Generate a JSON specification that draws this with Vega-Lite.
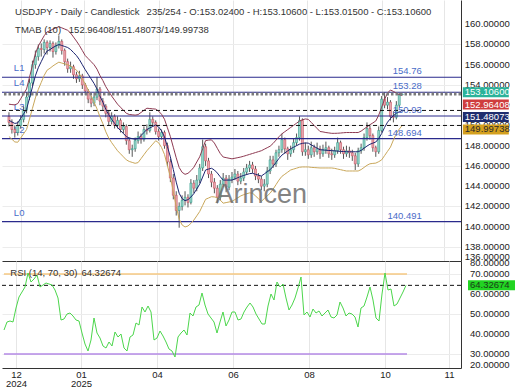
{
"$schema":"https://vega.github.io/schema/vega-lite/v6.json",
"background":"#ffffff",
"padding":0,
"spacing":0,
"bounds":"flush",
"config":{"view":{"stroke":null},"font":"Liberation Sans","axis":{"labelFont":"Liberation Sans","labelFontSize":9.5,"labelColor":"#222222","ticks":false,"title":null,"labelOverlap":false}},
"datasets":{
"bars":[
{"i":0,"o":150.9,"h":151.3,"l":149.9,"c":150.3,"u":152.1,"m":150.5,"d":148.9,"r":42},
{"i":1,"o":150.3,"h":150.6,"l":149.2,"c":149.6,"u":152.06,"m":150.35,"d":148.64,"r":46},
{"i":2,"o":149.6,"h":150.0,"l":148.8,"c":149.3,"u":152.03,"m":150.2,"d":148.37,"r":46.5},
{"i":3,"o":149.3,"h":150.4,"l":149.0,"c":150.0,"u":152.16,"m":150.25,"d":148.34,"r":46},
{"i":4,"o":150.0,"h":151.0,"l":149.7,"c":150.6,"u":152.64,"m":150.7,"d":148.76,"r":53},
{"i":5,"o":150.6,"h":151.9,"l":150.3,"c":151.5,"u":153.12,"m":151.15,"d":149.18,"r":58.5},
{"i":6,"o":151.5,"h":153.3,"l":151.2,"c":152.8,"u":153.6,"m":151.6,"d":149.6,"r":61},
{"i":7,"o":152.8,"h":154.6,"l":152.5,"c":154.2,"u":154.76,"m":152.7,"d":150.64,"r":63.5},
{"i":8,"o":154.2,"h":156.4,"l":153.9,"c":156.0,"u":155.92,"m":153.8,"d":151.68,"r":70.5},
{"i":9,"o":156.0,"h":157.4,"l":155.6,"c":156.8,"u":157.08,"m":154.9,"d":152.72,"r":66},
{"i":10,"o":156.8,"h":158.0,"l":156.4,"c":157.6,"u":157.84,"m":155.7,"d":153.56,"r":67.5},
{"i":11,"o":157.6,"h":158.1,"l":156.8,"c":157.5,"u":158.35,"m":156.3,"d":154.25,"r":69.5},
{"i":12,"o":157.5,"h":158.5,"l":157.1,"c":158.2,"u":158.86,"m":156.9,"d":154.94,"r":63.5},
{"i":13,"o":158.2,"h":158.4,"l":157.0,"c":157.7,"u":159.24,"m":157.35,"d":155.46,"r":64.5},
{"i":14,"o":157.7,"h":158.4,"l":157.3,"c":158.1,"u":159.35,"m":157.5,"d":155.65,"r":65.5},
{"i":15,"o":158.1,"h":158.3,"l":156.7,"c":157.3,"u":159.52,"m":157.7,"d":155.88,"r":65},
{"i":16,"o":157.3,"h":158.2,"l":157.0,"c":157.9,"u":159.63,"m":157.85,"d":156.07,"r":64.5},
{"i":17,"o":157.9,"h":158.9,"l":157.6,"c":158.3,"u":159.75,"m":158.0,"d":156.25,"r":62},
{"i":18,"o":158.3,"h":158.5,"l":157.0,"c":157.4,"u":159.64,"m":157.9,"d":156.16,"r":58},
{"i":19,"o":157.4,"h":157.6,"l":155.9,"c":156.3,"u":159.52,"m":157.8,"d":156.08,"r":47},
{"i":20,"o":156.3,"h":156.6,"l":155.2,"c":155.6,"u":159.4,"m":157.7,"d":156.0,"r":47.5},
{"i":21,"o":155.6,"h":156.3,"l":155.2,"c":155.8,"u":159.13,"m":157.5,"d":155.87,"r":50},
{"i":22,"o":155.8,"h":156.0,"l":154.6,"c":155.0,"u":158.73,"m":157.2,"d":155.67,"r":50.5},
{"i":23,"o":155.0,"h":155.3,"l":154.2,"c":154.6,"u":158.33,"m":156.9,"d":155.47,"r":49},
{"i":24,"o":154.6,"h":155.4,"l":154.3,"c":154.9,"u":157.9,"m":156.5,"d":155.1,"r":47},
{"i":25,"o":154.9,"h":155.1,"l":153.6,"c":154.0,"u":157.4,"m":156.0,"d":154.6,"r":46.5},
{"i":26,"o":154.0,"h":154.2,"l":153.0,"c":153.4,"u":156.9,"m":155.5,"d":154.1,"r":40.5},
{"i":27,"o":153.4,"h":153.6,"l":152.2,"c":152.6,"u":156.6,"m":155.05,"d":153.5,"r":35},
{"i":28,"o":152.6,"h":152.9,"l":151.8,"c":152.2,"u":156.3,"m":154.6,"d":152.9,"r":31.5},
{"i":29,"o":152.2,"h":153.2,"l":151.9,"c":152.8,"u":156.0,"m":154.15,"d":152.3,"r":37},
{"i":30,"o":152.8,"h":154.8,"l":152.5,"c":153.6,"u":155.56,"m":153.6,"d":151.64,"r":48},
{"i":31,"o":153.6,"h":153.8,"l":152.0,"c":152.4,"u":154.94,"m":152.9,"d":150.86,"r":40.5},
{"i":32,"o":152.4,"h":152.7,"l":151.5,"c":151.9,"u":154.43,"m":152.3,"d":150.17,"r":38},
{"i":33,"o":151.9,"h":152.1,"l":150.8,"c":151.2,"u":153.83,"m":151.6,"d":149.37,"r":34},
{"i":34,"o":151.2,"h":151.5,"l":150.0,"c":150.4,"u":153.36,"m":151.06,"d":148.76,"r":33},
{"i":35,"o":150.4,"h":151.3,"l":150.1,"c":150.9,"u":152.9,"m":150.6,"d":148.3,"r":36},
{"i":36,"o":150.9,"h":151.1,"l":149.7,"c":150.0,"u":152.5,"m":150.2,"d":147.9,"r":34},
{"i":37,"o":150.0,"h":150.9,"l":149.7,"c":150.5,"u":152.1,"m":149.8,"d":147.5,"r":41},
{"i":38,"o":150.5,"h":150.7,"l":149.3,"c":149.6,"u":151.8,"m":149.5,"d":147.2,"r":38.5},
{"i":39,"o":149.6,"h":150.3,"l":149.2,"c":149.9,"u":151.5,"m":149.2,"d":146.9,"r":40},
{"i":40,"o":149.9,"h":150.1,"l":148.1,"c":148.5,"u":151.2,"m":148.9,"d":146.6,"r":33},
{"i":41,"o":148.5,"h":148.8,"l":147.2,"c":147.6,"u":151.08,"m":148.76,"d":146.44,"r":31.5},
{"i":42,"o":147.6,"h":148.1,"l":146.9,"c":147.7,"u":151.05,"m":148.7,"d":146.35,"r":38.5},
{"i":43,"o":147.7,"h":148.8,"l":147.4,"c":148.5,"u":151.02,"m":148.64,"d":146.26,"r":39.5},
{"i":44,"o":148.5,"h":149.4,"l":148.2,"c":148.9,"u":151.07,"m":148.7,"d":146.33,"r":45.5},
{"i":45,"o":148.9,"h":149.2,"l":148.2,"c":148.6,"u":151.28,"m":149.0,"d":146.72,"r":44.5},
{"i":46,"o":148.6,"h":149.9,"l":148.4,"c":149.6,"u":151.49,"m":149.3,"d":147.11,"r":53.5},
{"i":47,"o":149.6,"h":150.1,"l":149.1,"c":149.5,"u":151.7,"m":149.6,"d":147.5,"r":51},
{"i":48,"o":149.5,"h":151.3,"l":149.3,"c":150.6,"u":151.67,"m":149.75,"d":147.83,"r":54},
{"i":49,"o":150.6,"h":150.9,"l":149.9,"c":150.3,"u":151.64,"m":149.9,"d":148.16,"r":51},
{"i":50,"o":150.3,"h":150.5,"l":149.1,"c":149.4,"u":151.61,"m":150.05,"d":148.49,"r":37},
{"i":51,"o":149.4,"h":149.7,"l":148.5,"c":148.9,"u":151.41,"m":149.85,"d":148.29,"r":38},
{"i":52,"o":148.9,"h":149.6,"l":148.6,"c":149.3,"u":151.1,"m":149.46,"d":147.82,"r":41.5},
{"i":53,"o":149.3,"h":149.5,"l":147.7,"c":148.0,"u":150.61,"m":148.87,"d":147.13,"r":39},
{"i":54,"o":148.0,"h":148.3,"l":146.0,"c":146.4,"u":149.77,"m":147.9,"d":146.03,"r":36},
{"i":55,"o":146.4,"h":146.7,"l":144.4,"c":144.8,"u":148.9,"m":146.9,"d":144.9,"r":32.5},
{"i":56,"o":144.8,"h":145.2,"l":142.7,"c":143.1,"u":147.85,"m":145.65,"d":143.45,"r":31.5},
{"i":57,"o":143.1,"h":143.5,"l":141.1,"c":141.6,"u":146.8,"m":144.4,"d":142.0,"r":28.5},
{"i":58,"o":141.6,"h":142.4,"l":139.9,"c":142.0,"u":145.85,"m":143.3,"d":140.75,"r":38.5},
{"i":59,"o":142.0,"h":143.1,"l":141.6,"c":142.6,"u":145.37,"m":142.77,"d":140.17,"r":40.5},
{"i":60,"o":142.6,"h":143.5,"l":142.1,"c":142.9,"u":145.17,"m":142.57,"d":139.97,"r":42},
{"i":61,"o":142.9,"h":143.2,"l":141.9,"c":142.4,"u":145.27,"m":142.67,"d":140.07,"r":39.5},
{"i":62,"o":142.4,"h":144.7,"l":142.2,"c":144.3,"u":145.53,"m":142.93,"d":140.33,"r":50.5},
{"i":63,"o":144.3,"h":144.6,"l":143.3,"c":143.8,"u":145.87,"m":143.26,"d":140.65,"r":49},
{"i":64,"o":143.8,"h":145.1,"l":143.5,"c":144.6,"u":146.39,"m":143.73,"d":141.07,"r":53.5},
{"i":65,"o":144.6,"h":146.2,"l":144.3,"c":145.8,"u":146.9,"m":144.2,"d":141.5,"r":54.5},
{"i":66,"o":145.8,"h":148.6,"l":145.5,"c":147.9,"u":147.7,"m":144.9,"d":142.1,"r":60.5},
{"i":67,"o":147.9,"h":148.2,"l":146.0,"c":146.5,"u":148.5,"m":145.6,"d":142.7,"r":54.5},
{"i":68,"o":146.5,"h":146.8,"l":144.8,"c":145.2,"u":148.55,"m":145.69,"d":142.83,"r":50},
{"i":69,"o":145.2,"h":145.5,"l":143.9,"c":144.4,"u":148.58,"m":145.77,"d":142.96,"r":48},
{"i":70,"o":144.4,"h":144.8,"l":143.3,"c":143.8,"u":148.26,"m":145.6,"d":142.94,"r":46},
{"i":71,"o":143.8,"h":144.1,"l":142.3,"c":142.9,"u":147.74,"m":145.3,"d":142.86,"r":40.5},
{"i":72,"o":142.9,"h":144.6,"l":142.6,"c":144.2,"u":147.23,"m":144.93,"d":142.63,"r":46},
{"i":73,"o":144.2,"h":145.3,"l":143.9,"c":144.8,"u":146.88,"m":144.6,"d":142.32,"r":51},
{"i":74,"o":144.8,"h":145.1,"l":143.4,"c":143.9,"u":146.82,"m":144.6,"d":142.38,"r":44},
{"i":75,"o":143.9,"h":145.1,"l":143.6,"c":144.7,"u":146.76,"m":144.6,"d":142.44,"r":47},
{"i":76,"o":144.7,"h":145.4,"l":144.3,"c":144.9,"u":146.7,"m":144.6,"d":142.5,"r":51},
{"i":77,"o":144.9,"h":145.7,"l":144.6,"c":145.2,"u":146.76,"m":144.72,"d":142.68,"r":51},
{"i":78,"o":145.2,"h":145.5,"l":144.1,"c":144.5,"u":146.82,"m":144.84,"d":142.86,"r":47},
{"i":79,"o":144.5,"h":145.3,"l":144.2,"c":144.8,"u":146.88,"m":144.96,"d":143.04,"r":47.5},
{"i":80,"o":144.8,"h":145.8,"l":144.5,"c":145.4,"u":146.96,"m":145.06,"d":143.16,"r":51},
{"i":81,"o":145.4,"h":146.2,"l":145.1,"c":145.8,"u":147.05,"m":145.15,"d":143.25,"r":53.5},
{"i":82,"o":145.8,"h":146.5,"l":145.4,"c":146.1,"u":147.14,"m":145.24,"d":143.34,"r":55.5},
{"i":83,"o":146.1,"h":146.4,"l":145.3,"c":145.7,"u":147.23,"m":145.27,"d":143.31,"r":53.5},
{"i":84,"o":145.7,"h":146.0,"l":144.6,"c":145.0,"u":147.32,"m":145.18,"d":143.04,"r":50},
{"i":85,"o":145.0,"h":145.3,"l":144.3,"c":144.7,"u":147.41,"m":145.09,"d":142.77,"r":47.5},
{"i":86,"o":144.7,"h":145.0,"l":143.6,"c":144.0,"u":147.5,"m":145.0,"d":142.5,"r":45},
{"i":87,"o":144.0,"h":144.7,"l":143.5,"c":144.2,"u":147.65,"m":145.21,"d":142.77,"r":45},
{"i":88,"o":144.2,"h":145.9,"l":143.9,"c":145.5,"u":147.8,"m":145.42,"d":143.04,"r":54},
{"i":89,"o":145.5,"h":147.0,"l":145.2,"c":146.6,"u":147.95,"m":145.63,"d":143.31,"r":60},
{"i":90,"o":146.6,"h":147.0,"l":145.8,"c":146.2,"u":148.22,"m":145.96,"d":143.7,"r":57},
{"i":91,"o":146.2,"h":147.6,"l":145.9,"c":147.3,"u":148.55,"m":146.35,"d":144.15,"r":66},
{"i":92,"o":147.3,"h":148.0,"l":146.9,"c":147.6,"u":148.88,"m":146.74,"d":144.6,"r":63.5},
{"i":93,"o":147.6,"h":149.2,"l":147.3,"c":148.6,"u":149.17,"m":147.07,"d":144.97,"r":65},
{"i":94,"o":148.6,"h":148.8,"l":147.2,"c":147.7,"u":149.38,"m":147.28,"d":145.18,"r":58},
{"i":95,"o":147.7,"h":147.9,"l":146.6,"c":147.2,"u":149.59,"m":147.49,"d":145.39,"r":52},
{"i":96,"o":147.2,"h":148.0,"l":146.9,"c":147.6,"u":149.8,"m":147.7,"d":145.6,"r":54.5},
{"i":97,"o":147.6,"h":148.7,"l":147.3,"c":148.3,"u":150.01,"m":147.85,"d":145.69,"r":58},
{"i":98,"o":148.3,"h":149.2,"l":148.0,"c":148.8,"u":150.22,"m":148.0,"d":145.78,"r":63},
{"i":99,"o":148.8,"h":150.9,"l":148.5,"c":150.5,"u":150.43,"m":148.15,"d":145.87,"r":68.5},
{"i":100,"o":150.5,"h":150.7,"l":147.0,"c":147.4,"u":150.56,"m":148.23,"d":145.9,"r":49.5},
{"i":101,"o":147.4,"h":148.3,"l":147.0,"c":147.6,"u":150.64,"m":148.27,"d":145.9,"r":51},
{"i":102,"o":147.6,"h":148.0,"l":146.7,"c":147.1,"u":150.6,"m":148.25,"d":145.9,"r":48.5},
{"i":103,"o":147.1,"h":148.4,"l":146.8,"c":147.8,"u":150.3,"m":148.08,"d":145.86,"r":52.5},
{"i":104,"o":147.8,"h":148.1,"l":146.9,"c":147.4,"u":150.0,"m":147.92,"d":145.84,"r":50.5},
{"i":105,"o":147.4,"h":148.3,"l":147.1,"c":147.7,"u":149.7,"m":147.76,"d":145.82,"r":51.5},
{"i":106,"o":147.7,"h":148.0,"l":146.7,"c":147.2,"u":149.4,"m":147.6,"d":145.8,"r":49},
{"i":107,"o":147.2,"h":148.1,"l":146.9,"c":147.6,"u":149.36,"m":147.58,"d":145.8,"r":50.5},
{"i":108,"o":147.6,"h":148.4,"l":147.2,"c":147.8,"u":149.3,"m":147.55,"d":145.8,"r":52},
{"i":109,"o":147.8,"h":148.0,"l":146.8,"c":147.2,"u":149.26,"m":147.53,"d":145.8,"r":48.5},
{"i":110,"o":147.2,"h":147.7,"l":146.6,"c":147.1,"u":149.22,"m":147.51,"d":145.8,"r":48},
{"i":111,"o":147.1,"h":147.9,"l":146.8,"c":147.5,"u":149.22,"m":147.49,"d":145.76,"r":49.5},
{"i":112,"o":147.5,"h":148.8,"l":147.2,"c":148.3,"u":149.23,"m":147.46,"d":145.69,"r":56},
{"i":113,"o":148.3,"h":148.5,"l":147.2,"c":147.6,"u":149.25,"m":147.44,"d":145.63,"r":53},
{"i":114,"o":147.6,"h":147.9,"l":146.7,"c":147.2,"u":149.28,"m":147.42,"d":145.56,"r":49},
{"i":115,"o":147.2,"h":148.0,"l":146.9,"c":147.5,"u":149.3,"m":147.4,"d":145.5,"r":50.5},
{"i":116,"o":147.5,"h":147.9,"l":146.8,"c":147.3,"u":149.3,"m":147.4,"d":145.5,"r":50},
{"i":117,"o":147.3,"h":147.6,"l":146.5,"c":147.0,"u":149.3,"m":147.4,"d":145.5,"r":48.5},
{"i":118,"o":147.0,"h":147.3,"l":145.6,"c":146.2,"u":149.3,"m":147.4,"d":145.5,"r":43.5},
{"i":119,"o":146.2,"h":147.8,"l":145.9,"c":147.5,"u":149.3,"m":147.4,"d":145.5,"r":53},
{"i":120,"o":147.5,"h":148.2,"l":147.2,"c":147.8,"u":149.44,"m":147.54,"d":145.64,"r":54},
{"i":121,"o":147.8,"h":149.2,"l":147.5,"c":148.8,"u":149.65,"m":147.75,"d":145.85,"r":58.5},
{"i":122,"o":148.8,"h":150.3,"l":148.5,"c":149.7,"u":149.86,"m":147.96,"d":146.06,"r":63.5},
{"i":123,"o":149.7,"h":150.0,"l":148.6,"c":149.0,"u":150.07,"m":148.14,"d":146.21,"r":57},
{"i":124,"o":149.0,"h":149.2,"l":147.4,"c":147.8,"u":150.25,"m":148.25,"d":146.25,"r":48},
{"i":125,"o":147.8,"h":148.0,"l":146.9,"c":147.4,"u":150.44,"m":148.36,"d":146.28,"r":46.5},
{"i":126,"o":147.4,"h":149.9,"l":147.2,"c":149.5,"u":151.02,"m":148.72,"d":146.42,"r":60},
{"i":127,"o":149.5,"h":152.9,"l":149.3,"c":152.6,"u":151.8,"m":149.2,"d":146.6,"r":70.5},
{"i":128,"o":152.6,"h":153.28,"l":151.7,"c":152.0,"u":152.58,"m":149.8,"d":147.02,"r":62},
{"i":129,"o":152.0,"h":152.8,"l":151.6,"c":152.3,"u":153.2,"m":150.32,"d":147.44,"r":62.5},
{"i":130,"o":152.3,"h":152.5,"l":150.5,"c":150.9,"u":153.5,"m":150.68,"d":147.86,"r":54},
{"i":131,"o":150.9,"h":151.4,"l":150.3,"c":150.8,"u":153.36,"m":150.96,"d":148.56,"r":55},
{"i":132,"o":150.8,"h":152.4,"l":150.6,"c":152.0,"u":153.2,"m":151.2,"d":149.2,"r":58},
{"i":133,"o":152.0,"h":153.2,"l":151.8,"c":153.02,"u":153.04,"m":151.34,"d":149.64,"r":61},
{"i":134,"o":153.024,"h":153.106,"l":153.015,"c":153.106,"u":152.96408,"m":151.48073,"d":149.99738,"r":64.32674}
],
"levels":[
{"n":"L1","v":154.76,"t":"154.76"},
{"n":"L4","v":153.28,"t":"153.28"},
{"n":"L3","v":150.93,"t":"150.93"},
{"n":"L2","v":148.694,"t":"148.694"},
{"n":"L0","v":140.491,"t":"140.491"}
],
"pticks":[{"v":138},{"v":140},{"v":142},{"v":144},{"v":146},{"v":148},{"v":150},{"v":152},{"v":154},{"v":156},{"v":158},{"v":160}],
"rticks":[{"v":30},{"v":40},{"v":50},{"v":60},{"v":70}]
},
"vconcat":[
{
"width":459,"height":261,
"layer":[
{"data":{"name":"levels"},"mark":{"type":"text","align":"left","baseline":"bottom","dy":-4,"fontSize":9.5,"color":"#4a6cc8"},
 "encoding":{"x":{"datum":1.67,"type":"quantitative"},"y":{"field":"v","type":"quantitative"},"text":{"field":"n"}}},
{"data":{"name":"bars"},"mark":{"type":"rule","color":"#555555","strokeWidth":1},
 "encoding":{
  "x":{"field":"i","type":"quantitative","scale":{"domain":[-0.667,152.333],"nice":false,"zero":false},
       "axis":{"orient":"bottom","values":[4,25.667,51,76.333,101.667,127,148.333],"labels":false,"ticks":false,"domain":true,"domainColor":"#333333","grid":true,"gridColor":"#e6e6e6","title":null}},
  "y":{"field":"l","type":"quantitative","scale":{"domain":[136.61,162.39],"nice":false,"zero":false},
       "axis":{"orient":"right","values":[138,140,142,144,146,148,150,152,154,156,158,160],"labels":false,"ticks":false,"domain":true,"domainColor":"#333333","grid":true,"gridColor":"#ececec","title":null}},
  "y2":{"field":"h"}}},
{"data":{"name":"bars"},"mark":{"type":"bar","width":2,"strokeWidth":0.6},
 "encoding":{"x":{"field":"i","type":"quantitative"},"y":{"field":"o","type":"quantitative"},"y2":{"field":"c"},
  "fill":{"condition":{"test":"datum.c >= datum.o","value":"#9fd6cc"},"value":"#e8a9b1"},
  "stroke":{"condition":{"test":"datum.c >= datum.o","value":"#2f9e8c"},"value":"#c9505e"}}},
{"data":{"name":"levels"},"mark":{"type":"rule","color":"#2a2a8c","strokeWidth":1.2},
 "encoding":{"y":{"field":"v","type":"quantitative"}}},
{"data":{"name":"bars"},"mark":{"type":"line","color":"#8e3a52","strokeWidth":1},
 "encoding":{"x":{"field":"i","type":"quantitative"},"y":{"field":"u","type":"quantitative"}}},
{"data":{"name":"bars"},"mark":{"type":"line","color":"#1c2470","strokeWidth":1},
 "encoding":{"x":{"field":"i","type":"quantitative"},"y":{"field":"m","type":"quantitative"}}},
{"data":{"name":"bars"},"mark":{"type":"line","color":"#c9a75a","strokeWidth":1},
 "encoding":{"x":{"field":"i","type":"quantitative"},"y":{"field":"d","type":"quantitative"}}},
{"data":{"values":[{"v":151.48073},{"v":149.99738}]},"mark":{"type":"rule","color":"#111111","strokeWidth":1,"strokeDash":[4,3]},
 "encoding":{"y":{"field":"v","type":"quantitative"}}},
{"data":{"values":[{"v":153.106}]},"mark":{"type":"rule","color":"#7a7a7a","strokeWidth":3,"strokeDash":[2.5,2]},
 "encoding":{"y":{"field":"v","type":"quantitative"}}},
{"data":{"name":"levels"},"mark":{"type":"text","align":"right","baseline":"bottom","dy":-1,"fontSize":9.5,"color":"#4a6cc8"},
 "encoding":{"x":{"datum":140.67,"type":"quantitative"},"y":{"field":"v","type":"quantitative"},"text":{"field":"t"}}},
{"data":{"values":[{"t":"Arincen"}]},"mark":{"type":"text","align":"center","baseline":"alphabetic","fontSize":27,"color":"#6e6e6e","opacity":0.85},
 "encoding":{"x":{"datum":86,"type":"quantitative"},"y":{"datum":142.34,"type":"quantitative"},"text":{"field":"t"}}},
{"data":{"values":[{"t":"USDJPY - Daily - Candlestick"}]},"mark":{"type":"text","align":"left","baseline":"middle","fontSize":9.5,"color":"#333333"},
 "encoding":{"x":{"datum":2.1,"type":"quantitative"},"y":{"datum":161.2,"type":"quantitative"},"text":{"field":"t"}}},
{"data":{"values":[{"t":"235/254 - O:153.02400 - H:153.10600 - L:153.01500 - C:153.10600"}]},"mark":{"type":"text","align":"left","baseline":"middle","fontSize":9.5,"color":"#333333"},
 "encoding":{"x":{"datum":46.9,"type":"quantitative"},"y":{"datum":161.2,"type":"quantitative"},"text":{"field":"t"}}},
{"data":{"values":[{"t":"TMAB (10)"}]},"mark":{"type":"text","align":"left","baseline":"middle","fontSize":9.5,"color":"#333333"},
 "encoding":{"x":{"datum":2.1,"type":"quantitative"},"y":{"datum":159.43,"type":"quantitative"},"text":{"field":"t"}}},
{"data":{"values":[{"t":"152.96408/151.48073/149.99738"}]},"mark":{"type":"text","align":"left","baseline":"middle","fontSize":9.5,"color":"#333333"},
 "encoding":{"x":{"datum":20.4,"type":"quantitative"},"y":{"datum":159.43,"type":"quantitative"},"text":{"field":"t"}}},
{"data":{"name":"pticks"},"mark":{"type":"text","align":"left","baseline":"middle","fontSize":9.5,"color":"#222222"},
 "encoding":{"x":{"datum":155.33,"type":"quantitative"},"y":{"field":"v","type":"quantitative"},"text":{"field":"v","type":"quantitative","format":".5f"}}},
{"data":{"values":[{"t":"136.00000"}]},"mark":{"type":"text","align":"left","baseline":"middle","fontSize":9.5,"color":"#222222"},
 "encoding":{"x":{"datum":155.33,"type":"quantitative"},"y":{"datum":137.0,"type":"quantitative"},"text":{"field":"t"}}},
{"data":{"values":[{"t":"153.10600"}]},"mark":{"type":"rect","color":"#2bb39a"},
 "encoding":{"x":{"datum":154.67,"type":"quantitative"},"x2":{"datum":170.33},"y":{"datum":153.768,"type":"quantitative"},"y2":{"datum":152.78}}},
{"data":{"values":[{"t":"153.10600"}]},"mark":{"type":"text","align":"left","baseline":"middle","fontSize":9.5,"color":"#ffffff"},
 "encoding":{"x":{"datum":155.33,"type":"quantitative"},"y":{"datum":153.274,"type":"quantitative"},"text":{"field":"t"}}},
{"data":{"values":[{"t":"152.96408"}]},"mark":{"type":"rect","color":"#cf3d3d"},
 "encoding":{"x":{"datum":154.67,"type":"quantitative"},"x2":{"datum":170.33},"y":{"datum":152.553,"type":"quantitative"},"y2":{"datum":151.565}}},
{"data":{"values":[{"t":"152.96408"}]},"mark":{"type":"text","align":"left","baseline":"middle","fontSize":9.5,"color":"#ffffff"},
 "encoding":{"x":{"datum":155.33,"type":"quantitative"},"y":{"datum":152.059,"type":"quantitative"},"text":{"field":"t"}}},
{"data":{"values":[{"t":"151.48073"}]},"mark":{"type":"rect","color":"#1f2d6e"},
 "encoding":{"x":{"datum":154.67,"type":"quantitative"},"x2":{"datum":170.33},"y":{"datum":151.328,"type":"quantitative"},"y2":{"datum":150.34}}},
{"data":{"values":[{"t":"151.48073"}]},"mark":{"type":"text","align":"left","baseline":"middle","fontSize":9.5,"color":"#ffffff"},
 "encoding":{"x":{"datum":155.33,"type":"quantitative"},"y":{"datum":150.834,"type":"quantitative"},"text":{"field":"t"}}},
{"data":{"values":[{"t":"149.99738"}]},"mark":{"type":"rect","color":"#d4a01e"},
 "encoding":{"x":{"datum":154.67,"type":"quantitative"},"x2":{"datum":170.33},"y":{"datum":150.094,"type":"quantitative"},"y2":{"datum":149.106}}},
{"data":{"values":[{"t":"149.99738"}]},"mark":{"type":"text","align":"left","baseline":"middle","fontSize":9.5,"color":"#2a2a2a"},
 "encoding":{"x":{"datum":155.33,"type":"quantitative"},"y":{"datum":149.6,"type":"quantitative"},"text":{"field":"t"}}}
]
},
{
"width":459,"height":107,
"layer":[
{"data":{"values":[{"v":70}]},"mark":{"type":"rule","color":"#f6c982","strokeWidth":1.5},
 "encoding":{"x":{"datum":0,"type":"quantitative"},"x2":{"datum":134.33},"y":{"field":"v","type":"quantitative"}}},
{"data":{"values":[{"v":30}]},"mark":{"type":"rule","color":"#b48ae6","strokeWidth":1.5},
 "encoding":{"x":{"datum":0,"type":"quantitative"},"x2":{"datum":134.33},"y":{"field":"v","type":"quantitative"}}},
{"data":{"values":[{"v":64.32674}]},"mark":{"type":"rule","color":"#111111","strokeWidth":1,"strokeDash":[4,3]},
 "encoding":{"y":{"field":"v","type":"quantitative"}}},
{"data":{"name":"bars"},"mark":{"type":"line","color":"#4cd64c","strokeWidth":1},
 "encoding":{
  "x":{"field":"i","type":"quantitative","scale":{"domain":[-0.667,152.333],"nice":false,"zero":false},
       "axis":{"orient":"bottom","values":[4,25.667,51,76.333,101.667,127,148.333],
               "labelExpr":"datum.value < 10 ? ['12','2024'] : datum.value < 40 ? ['01','2025'] : datum.value < 60 ? '04' : datum.value < 90 ? '06' : datum.value < 115 ? '08' : datum.value < 140 ? '10' : '11'",
               "labelOverlap":false,"labelFlush":false,"labelPadding":1,"labelBaseline":"top","labelLineHeight":9.5,"ticks":false,"domain":true,"domainColor":"#333333","grid":true,"gridColor":"#e6e6e6","title":null}},
  "y":{"field":"r","type":"quantitative","scale":{"domain":[23,76.5],"nice":false,"zero":false},
       "axis":{"orient":"right","values":[30,40,50,60,70],"labels":false,"ticks":false,"domain":true,"domainColor":"#333333","grid":true,"gridColor":"#ececec","title":null}}}},
{"data":{"values":[{"t":"RSI (14, 70, 30)"}]},"mark":{"type":"text","align":"left","baseline":"middle","fontSize":9.5,"color":"#333333"},
 "encoding":{"x":{"datum":2.1,"type":"quantitative"},"y":{"datum":70.5,"type":"quantitative"},"text":{"field":"t"}}},
{"data":{"values":[{"t":"64.32674"}]},"mark":{"type":"text","align":"left","baseline":"middle","fontSize":9.5,"color":"#333333"},
 "encoding":{"x":{"datum":25.8,"type":"quantitative"},"y":{"datum":70.5,"type":"quantitative"},"text":{"field":"t"}}},
{"data":{"name":"rticks"},"mark":{"type":"text","align":"left","baseline":"middle","fontSize":9.5,"color":"#222222"},
 "encoding":{"x":{"datum":155.33,"type":"quantitative"},"y":{"field":"v","type":"quantitative"},"text":{"field":"v","type":"quantitative","format":".5f"}}},
{"data":{"values":[{"t":"80.00000"}]},"mark":{"type":"text","align":"left","baseline":"middle","fontSize":9.5,"color":"#222222"},
 "encoding":{"x":{"datum":155.33,"type":"quantitative"},"y":{"datum":75.5,"type":"quantitative"},"text":{"field":"t"}}},
{"data":{"values":[{"t":"20.00000"}]},"mark":{"type":"text","align":"left","baseline":"middle","fontSize":9.5,"color":"#222222"},
 "encoding":{"x":{"datum":155.33,"type":"quantitative"},"y":{"datum":24.5,"type":"quantitative"},"text":{"field":"t"}}},
{"data":{"values":[{"t":"64.32674"}]},"mark":{"type":"rect","color":"#22d422"},
 "encoding":{"x":{"datum":154.67,"type":"quantitative"},"x2":{"datum":170.33},"y":{"datum":66.83,"type":"quantitative"},"y2":{"datum":61.83}}},
{"data":{"values":[{"t":"64.32674"}]},"mark":{"type":"text","align":"left","baseline":"middle","fontSize":9.5,"color":"#1a3a1a"},
 "encoding":{"x":{"datum":155.33,"type":"quantitative"},"y":{"datum":64.33,"type":"quantitative"},"text":{"field":"t"}}}
]
}
]
}
